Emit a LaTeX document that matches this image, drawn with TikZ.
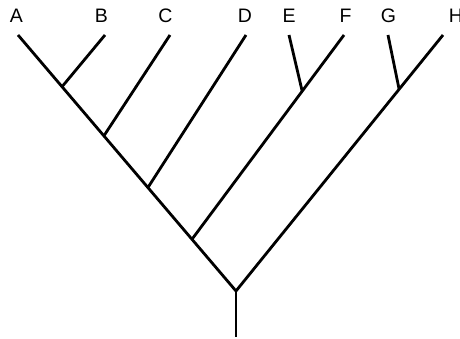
\documentclass[tikz,border=0pt]{standalone}
\usepackage{fontspec}
\setmainfont{Liberation Sans}
\usetikzlibrary{calc}
\begin{document}
\begin{tikzpicture}[x=1pt,y=-1pt,
  branch/.style={line width=2.8pt},
  taxon/.style={font=\fontsize{19.5}{20}\selectfont, anchor=base, inner sep=0pt}]
\useasboundingbox (0,0) rectangle (460,339);
% leaf labels
\node[taxon] (lA) at (16.5,22.7) {A};
\node[taxon] (lB) at (101.5,22.7) {B};
\node[taxon] (lC) at (165.5,22.7) {C};
\node[taxon] (lD) at (245,22.7) {D};
\node[taxon] (lE) at (289,22.7) {E};
\node[taxon] (lF) at (345.5,22.7) {F};
\node[taxon] (lG) at (388.5,22.7) {G};
\node[taxon] (lH) at (456,22.7) {H};
% branch tips
\coordinate (A) at (18,35);
\coordinate (B) at (105,35);
\coordinate (C) at (170,35);
\coordinate (D) at (246,35);
\coordinate (E) at (289,35);
\coordinate (F) at (344,35);
\coordinate (G) at (388,35);
\coordinate (H) at (443,35);
% internal nodes
\coordinate (root) at (236,291);
\coordinate (base) at (236,337);
\coordinate (AB) at ($(A)!0.202!(root)$);
\coordinate (ABC) at ($(A)!0.394!(root)$);
\coordinate (ABCD) at ($(A)!0.596!(root)$);
\coordinate (rest) at ($(A)!0.798!(root)$);
\coordinate (EF) at ($(F)!0.275!(rest)$);
\coordinate (GH) at ($(H)!0.212!(root)$);
% tree
\draw[branch] (A) -- (root) -- (H);
\draw[branch] (root) -- (base);
\draw[branch] (B) -- (AB);
\draw[branch] (C) -- (ABC);
\draw[branch] (D) -- (ABCD);
\draw[branch] (F) -- (rest);
\draw[branch] (E) -- (EF);
\draw[branch] (G) -- (GH);
\end{tikzpicture}
\end{document}
